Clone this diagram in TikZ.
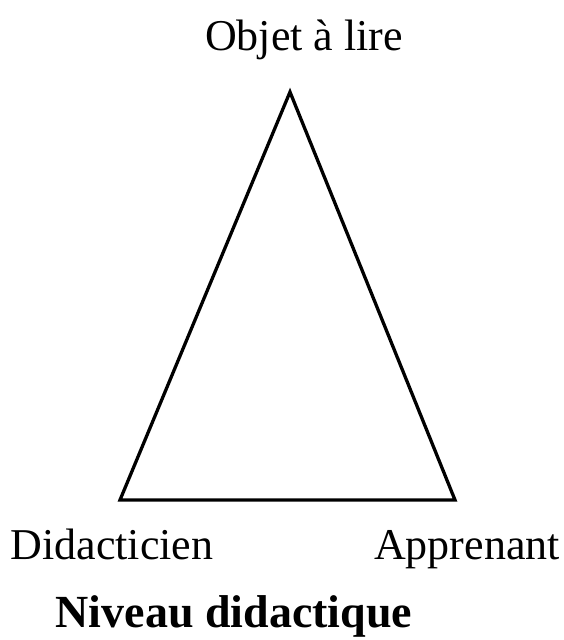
\documentclass[tikz,border=0pt]{standalone}
\usepackage{fontspec}
\setmainfont{Liberation Serif}
\begin{document}
\begin{tikzpicture}[x=1pt,y=-1pt,
  lbl/.style={anchor=base,inner sep=0pt,font=\fontsize{44}{50}\selectfont},
  tri/.style={line width=3.3pt,line join=miter}]
\useasboundingbox (0,0) rectangle (563,640);
\coordinate (top) at (290,92);
\coordinate (bl) at (120,500);
\coordinate (br) at (455,500);
\draw[tri] (top) -- (bl) -- (br) -- cycle;
\node[lbl] (objet) at (304,50) {Objet à lire};
\node[lbl] (didac) at (112,559) {Didacticien};
\node[lbl] (appr) at (467,559) {Apprenant};
\node[lbl,font=\fontsize{46}{52}\selectfont\bfseries] (niveau) at (234,627) {Niveau didactique};
\end{tikzpicture}
\end{document}
